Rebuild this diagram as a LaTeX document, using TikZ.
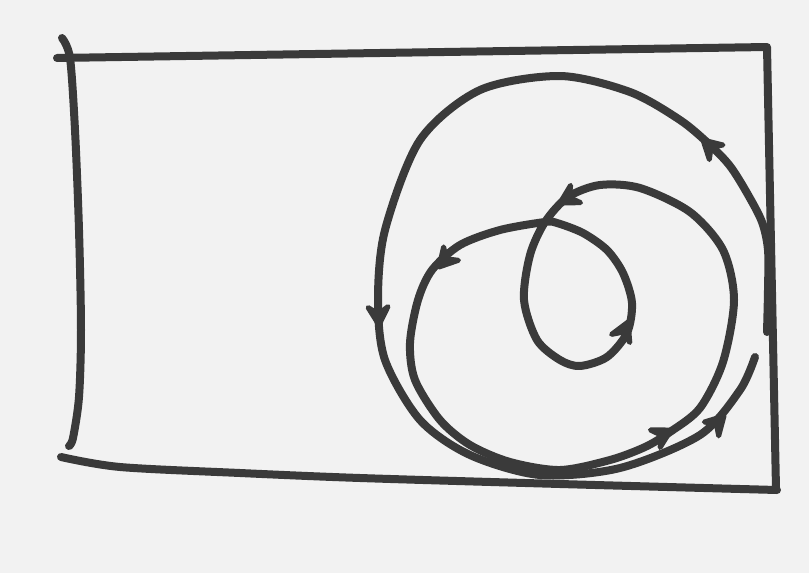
\documentclass[tikz,border=0pt]{standalone}
\usetikzlibrary{arrows.meta}
\definecolor{paper}{RGB}{242,242,242}
\definecolor{ink}{RGB}{58,58,58}
\tikzset{
  pen/.style={draw=ink, line width=8pt, line cap=round, line join=round},
  chev/.pic={\draw[draw=ink, fill=ink, line width=5pt, line join=round, line cap=round] (-18,10) -- (0,0) -- (-18,-10) -- (-11,0) -- cycle;},
}
\begin{document}
\begin{tikzpicture}[x=1pt,y=-1pt]
\fill[paper] (0,0) rectangle (809,573);
\useasboundingbox (0,0) rectangle (809,573);
% frame
\draw[pen] plot[smooth] coordinates {(62,38) (70,58) (75,130) (79,230) (81,330) (79,397) (73,438) (69,446)};
\draw[pen] (57,58) -- (767,47) -- (776,489);
\draw[pen] plot[smooth] coordinates {(61,457) (120,467) (240,473) (360,478) (560,484) (777,490)};
% outer spiral strand
\draw[pen] plot[smooth] coordinates {(767,332) (768,290) (768,250) (762,222) (747,193) (730,166) (710,145) (680,120) (630,92) (560,76) (480,90) (420,140) (385,230) (378,300) (385,360) (420,420) (470,455) (540,475) (620,468) (700,435) (740,390) (755,357)};
% middle strand with inner loop
\draw[pen] plot[smooth cycle] coordinates {(432,270) (418,300) (410,343) (415,380) (440,420) (470,445) (510,462) (560,470) (610,460) (645,447) (670,432) (700,408) (723,362) (734,300) (723,250) (690,212) (640,188) (600,185) (568,197) (545,222) (530,255) (524,300) (537,340) (560,360) (580,366) (607,357) (627,333) (632,303) (623,273) (607,250) (583,233) (557,223) (545,222) (500,230) (460,245)};
% arrowheads
\pic[rotate=137] at (703,140) {chev};
\pic[rotate=-87] at (379,325) {chev};
\pic[rotate=46] at (724,416) {chev};
\pic[rotate=29] at (671,430) {chev};
\pic[rotate=210] at (560,203) {chev};
\pic[rotate=228] at (439,267) {chev};
\pic[rotate=66] at (628,322) {chev};
\end{tikzpicture}
\end{document}
